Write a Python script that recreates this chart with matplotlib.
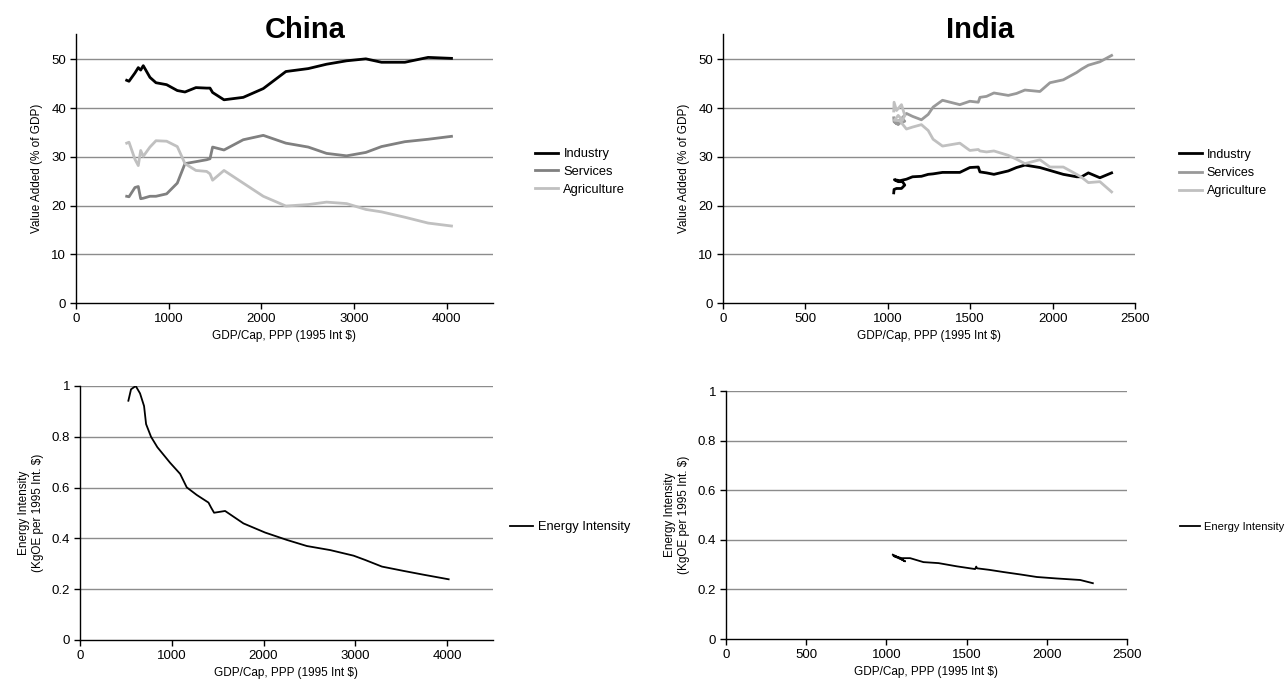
import matplotlib
matplotlib.use("Agg")
import matplotlib.pyplot as plt

plt.rcParams['font.family'] = ['Liberation Sans', 'DejaVu Sans']

# ---------------- data ----------------
series_names = ["Industry", "Services", "Agriculture"]
series_colors = ["#000000", "#808080", "#c0c0c0"]
india_colors = ["#000000", "#999999", "#c0c0c0"]

china_gdp = [547, 572, 636, 672, 698, 726, 798, 863, 978, 1093, 1176, 1294, 1410,
             1446, 1474, 1597, 1805, 2021, 2265, 2506, 2704, 2920, 3128, 3297,
             3549, 3800, 4052]
china_industry = [45.7, 45.5, 47.2, 48.3, 47.8, 48.7, 46.3, 45.2, 44.8, 43.6, 43.3,
                  44.2, 44.1, 44.1, 43.2, 41.7, 42.2, 44.0, 47.5, 48.1, 49.0, 49.7,
                  50.1, 49.4, 49.4, 50.4, 50.2]
china_services = [21.9, 21.8, 23.7, 23.9, 21.4, 21.5, 21.9, 21.9, 22.4, 24.6, 28.6,
                  29.0, 29.4, 29.6, 32.0, 31.4, 33.5, 34.4, 32.8, 32.0, 30.7, 30.2,
                  30.9, 32.1, 33.1, 33.6, 34.2]
china_agriculture = [32.8, 33.0, 29.5, 28.2, 31.3, 30.1, 32.0, 33.3, 33.2, 32.1, 28.6,
                     27.2, 27.0, 26.5, 25.2, 27.2, 24.6, 21.9, 19.9, 20.2, 20.7, 20.4,
                     19.2, 18.7, 17.6, 16.4, 15.8]

china_e_gdp = [527, 556, 607, 654, 698, 720, 774, 843, 981, 1091, 1163, 1272, 1400,
               1429, 1461, 1581, 1781, 2017, 2254, 2472, 2726, 2981, 3108, 3290,
               3526, 3744, 4017]
china_energy = [0.942, 0.987, 1.0, 0.971, 0.921, 0.850, 0.800, 0.759, 0.698, 0.654,
                0.601, 0.571, 0.541, 0.521, 0.501, 0.508, 0.459, 0.423, 0.394, 0.370,
                0.354, 0.332, 0.315, 0.289, 0.272, 0.257, 0.239]

india_gdp = [1036, 1038, 1053, 1083, 1103, 1089, 1063, 1040, 1073, 1113, 1150, 1204,
             1245, 1275, 1332, 1437, 1498, 1549, 1559, 1599, 1644, 1731, 1781, 1832,
             1923, 1984, 2065, 2146, 2176, 2217, 2287, 2358]
india_industry = [22.6, 23.3, 23.5, 23.5, 24.2, 24.9, 24.9, 25.3, 25.1, 25.4, 25.9,
                  26.0, 26.4, 26.5, 26.8, 26.8, 27.8, 27.9, 26.9, 26.7, 26.4, 27.1,
                  27.8, 28.3, 27.8, 27.2, 26.4, 25.9, 25.9, 26.7, 25.7, 26.7]
india_services = [38.0, 37.2, 36.8, 37.0, 37.3, 37.8, 36.6, 37.2, 37.5, 38.9, 38.3,
                  37.6, 38.7, 40.2, 41.6, 40.7, 41.4, 41.2, 42.2, 42.4, 43.1, 42.6,
                  43.0, 43.7, 43.4, 45.2, 45.8, 47.3, 48.0, 48.8, 49.5, 50.8]
india_agriculture = [39.4, 41.2, 39.5, 40.7, 38.5, 37.5, 38.5, 37.5, 37.4, 35.7, 36.1,
                     36.6, 35.4, 33.6, 32.2, 32.8, 31.3, 31.5, 31.2, 31.0, 31.2, 30.3,
                     29.5, 28.6, 29.4, 27.9, 27.9, 26.4, 25.8, 24.7, 24.9, 22.8]

india_e_gdp = [1040, 1060, 1085, 1117, 1090, 1050, 1044, 1096, 1148, 1231, 1325, 1439,
               1553, 1560, 1565, 1640, 1730, 1838, 1938, 2063, 2208, 2287]
india_energy = [0.340, 0.334, 0.325, 0.313, 0.322, 0.333, 0.335, 0.326, 0.326, 0.310,
                0.306, 0.293, 0.282, 0.292, 0.285, 0.279, 0.270, 0.260, 0.250, 0.244,
                0.238, 0.225]

xlabel = "GDP/Cap, PPP (1995 Int $)"
ylabel_top = "Value Added (% of GDP)"
ylabel_bot = "Energy Intensity\n(KgOE per 1995 Int. $)"

# ---------------- figure ----------------
W, H = 1286, 694
fig = plt.figure(figsize=(W / 100, H / 100), dpi=100)


def fx(px):
    return px / W


def fy(py):
    return 1 - py / H


def make_ax(l, r, t, b):
    return fig.add_axes([fx(l), fy(b), fx(r) - fx(l), fy(t) - fy(b)])


def style(ax, xmax, xstep, ymax, ystep, ytop, fmt=None):
    ax.set_xlim(0, xmax)
    ax.set_ylim(0, ytop)
    ax.set_xticks(range(0, xmax + 1, xstep))
    yt = []
    v = 0
    while v <= ymax + 1e-9:
        yt.append(round(v, 2))
        v += ystep
    ax.set_yticks(yt)
    if fmt:
        ax.set_yticklabels([fmt(v) for v in yt])
    for v in yt[1:]:
        ax.axhline(v, color="#8c8c8c", lw=1.0, zorder=0)
    for s in ["top", "right"]:
        ax.spines[s].set_visible(False)
    for s in ["left", "bottom"]:
        ax.spines[s].set_color("black")
        ax.spines[s].set_linewidth(1.0)
    ax.tick_params(axis="both", direction="out", length=4, width=1, labelsize=9.5,
                   colors="black", pad=3)
    ax.set_xlabel(xlabel, fontsize=8.5, labelpad=4)


leg_kw = dict(frameon=False, handlelength=1.8, handletextpad=0.4,
              borderpad=0, borderaxespad=0)

# China top
ax1 = make_ax(76, 493, 34, 303)
style(ax1, 4500, 1000, 50, 10, 55.2)
for y, n, c in zip([china_industry, china_services, china_agriculture], series_names, series_colors):
    ax1.plot(china_gdp, y, color=c, lw=2.0, label=n)
ax1.set_ylabel(ylabel_top, fontsize=8.5, labelpad=6)
ax1.legend(loc="center left", bbox_to_anchor=(fx(535), fy(172)), bbox_transform=fig.transFigure,
           fontsize=9.3, labelspacing=0.45, **leg_kw)

# India top
ax2 = make_ax(723, 1135, 34, 303)
style(ax2, 2500, 500, 50, 10, 55.2)
for y, n, c in zip([india_industry, india_services, india_agriculture], series_names, india_colors):
    ax2.plot(india_gdp, y, color=c, lw=2.0, label=n)
ax2.set_ylabel(ylabel_top, fontsize=8.5, labelpad=6)
ax2.legend(loc="center left", bbox_to_anchor=(fx(1179), fy(173)), bbox_transform=fig.transFigure,
           fontsize=9.0, labelspacing=0.5, **leg_kw)

efmt = lambda v: "0" if v == 0 else ("1" if v == 1 else f"{v:g}")

# China bottom
ax3 = make_ax(80, 493, 386, 640)
style(ax3, 4500, 1000, 1.0, 0.2, 1.0, efmt)
ax3.plot(china_e_gdp, china_energy, color="black", lw=1.3, label="Energy Intensity")
ax3.set_ylabel(ylabel_bot, fontsize=8.5, labelpad=6)
ax3.legend(loc="center left", bbox_to_anchor=(fx(510), fy(527)), bbox_transform=fig.transFigure,
           fontsize=9.3, **leg_kw)

# India bottom
ax4 = make_ax(726, 1127, 391, 639)
style(ax4, 2500, 500, 1.0, 0.2, 1.0, efmt)
ax4.plot(india_e_gdp, india_energy, color="black", lw=1.3, label="Energy Intensity")
ax4.set_ylabel(ylabel_bot, fontsize=8.5, labelpad=6)
ax4.legend(loc="center left", bbox_to_anchor=(fx(1180), fy(527)), bbox_transform=fig.transFigure,
           fontsize=8.0, handlelength=1.8, handletextpad=0.4, frameon=False,
           borderpad=0, borderaxespad=0)

fig.text(fx(305), fy(30), "China", ha="center", va="center", fontsize=21, fontweight="bold")
fig.text(fx(980), fy(30), "India", ha="center", va="center", fontsize=21, fontweight="bold")

fig.savefig("out.png", dpi=100, facecolor="white")
